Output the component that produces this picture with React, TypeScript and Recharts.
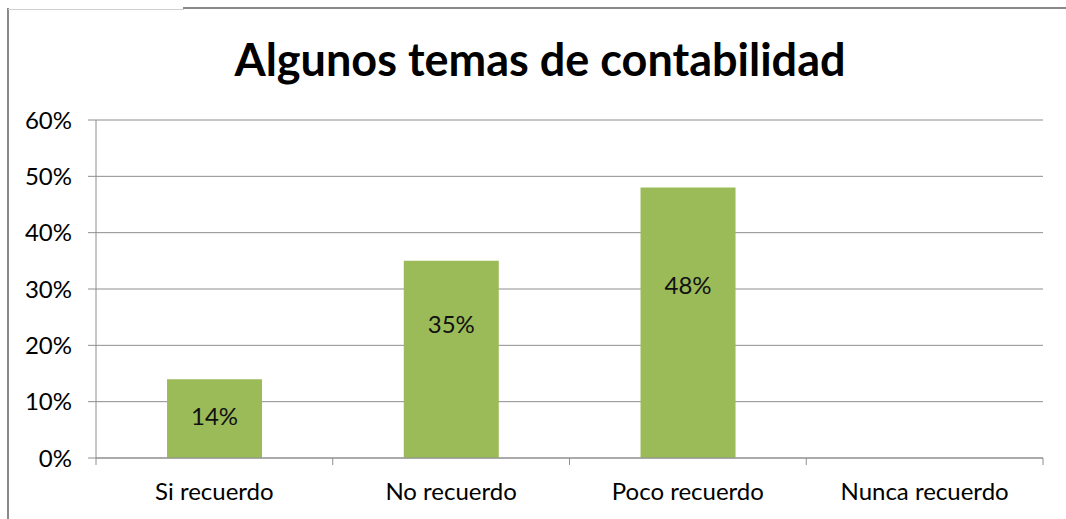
import { BarChart, Bar, XAxis, YAxis, CartesianGrid, LabelList } from 'recharts';

const categories = ['Si recuerdo', 'No recuerdo', 'Poco recuerdo', 'Nunca recuerdo'];
const values = [0.14, 0.35, 0.48, 0];
const yTicks = [0, 0.1, 0.2, 0.3, 0.4, 0.5, 0.6];

// where each value label sits inside its bar (share of bar height from the top)
const labelDrop = [0.46, 0.32, 0.36, 0.5];

const W = 1066;
const H = 519;
const PLOT_LEFT = 96;
const PLOT_RIGHT = 1043;
const FONT = 'Lato, "Open Sans", sans-serif';
const GRID = '#8e8e8e';

const data = categories.map((name, i) => ({ name, value: values[i] }));
const band = (PLOT_RIGHT - PLOT_LEFT) / categories.length;

const pct = (v: number) => `${Math.round(v * 100)}%`;

function CategoryTick(props: any) {
  const { x, y, payload, index } = props;
  const left = x - band / 2;
  return (
    <g>
      <line x1={left} x2={left} y1={y - 25} y2={y - 18} stroke={GRID} />
      {index === categories.length - 1 && (
        <line x1={x + band / 2} x2={x + band / 2} y1={y - 25} y2={y - 18} stroke={GRID} />
      )}
      <text x={x} y={y} dy="0.71em" textAnchor="middle" fill="#000" fontSize={24} fontFamily={FONT}>
        {payload.value}
      </text>
    </g>
  );
}

function ValueLabel(props: any) {
  const { x, y, width, height, value, index } = props;
  if (!value) return null;
  return (
    <text
      x={x + width / 2}
      y={y + height * labelDrop[index]}
      textAnchor="middle"
      dominantBaseline="central"
      fill="#111"
      fontSize={24}
      fontFamily={FONT}
    >
      {pct(value)}
    </text>
  );
}

export default function App() {
  return (
    <div style={{ position: 'fixed', left: 0, top: 0, width: W, height: H, background: '#fff', overflow: 'hidden' }}>
      {/* frame edges */}
      <div style={{ position: 'absolute', left: 7, top: 8, width: 2, height: H, background: '#8a8a8a' }} />
      <div style={{ position: 'absolute', left: 8, top: 9, width: 176, height: 1, background: '#d0d0d0' }} />
      <div style={{ position: 'absolute', left: 183, top: 7, width: W - 183, height: 2, background: '#8a8a8a' }} />

      <div
        style={{
          position: 'absolute', left: 0, top: 32, width: 1080, textAlign: 'center',
          fontFamily: FONT, fontWeight: 700, fontSize: 45, color: '#000',
        }}
      >
        Algunos temas de contabilidad
      </div>

      <div style={{ position: 'absolute', left: 0, top: 0 }}>
        <BarChart
          width={W}
          height={H}
          data={data}
          margin={{ top: 120, right: W - PLOT_RIGHT, left: PLOT_LEFT - 60, bottom: 31 }}
          barCategoryGap="30%"
        >
          <CartesianGrid vertical={false} stroke={GRID} />
          <XAxis
            dataKey="name"
            stroke={GRID}
            tickLine={false}
            tickMargin={0}
            tick={<CategoryTick />}
            tickSize={25}
            interval={0}
          />
          <YAxis
            domain={[0, 0.6]}
            ticks={yTicks}
            tickFormatter={pct}
            stroke={GRID}
            tickSize={8}
            tickMargin={16}
            width={60}
            tick={{ fill: '#000', fontSize: 24, fontFamily: FONT }}
          />
          <Bar dataKey="value" fill="#9bbb59" isAnimationActive={false}>
            <LabelList dataKey="value" content={<ValueLabel />} />
          </Bar>
        </BarChart>
      </div>
    </div>
  );
}
